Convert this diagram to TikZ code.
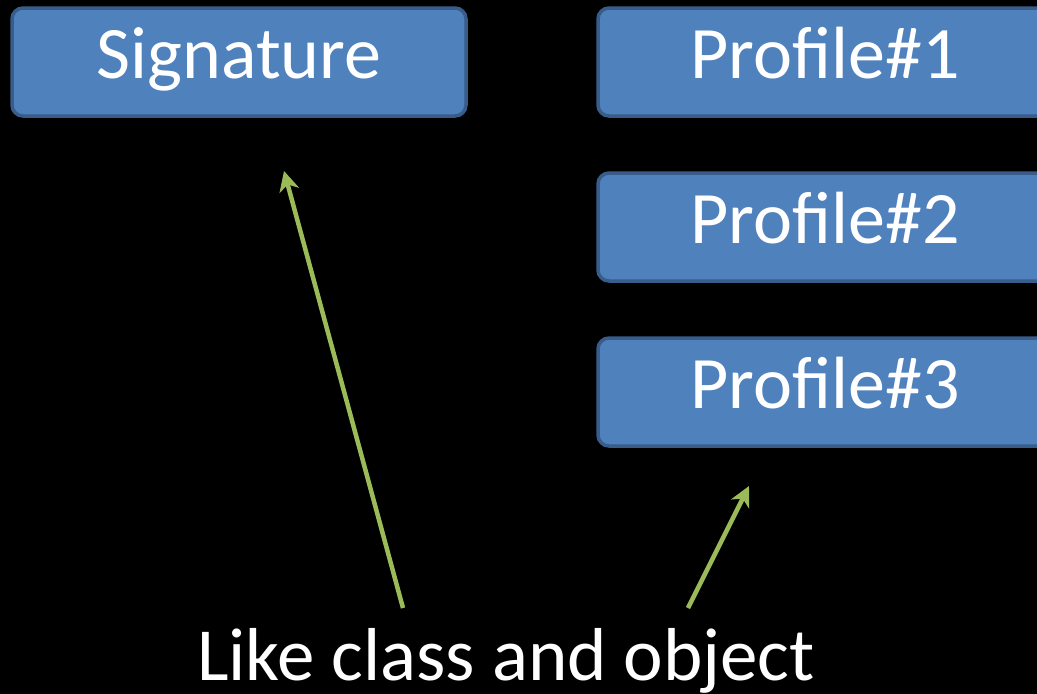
\documentclass[tikz,border=0pt]{standalone}
\usepackage{fontspec}
\setmainfont{Carlito}
\usetikzlibrary{arrows.meta}
\definecolor{boxfill}{HTML}{4F81BD}
\definecolor{boxline}{HTML}{385D8A}
\definecolor{arrowgreen}{HTML}{9BBB59}
\tikzset{
  card/.style={draw=boxline, fill=boxfill, line width=3.5pt, rounded corners=11pt,
    minimum width=454pt, minimum height=108pt, inner sep=0pt,
    text height=32pt, text depth=0pt,
    text=white, font=\fontsize{74}{88}\selectfont},
  pointer/.style={draw=arrowgreen, line width=4.5pt,
    -{Stealth[length=20pt,width=20pt,inset=6pt]}}
}
\begin{document}
\begin{tikzpicture}[x=1pt,y=-1pt]
  \fill[black] (0,0) rectangle (1037,694);
  \useasboundingbox (0,0) rectangle (1037,694);
  \begin{scope}
    \clip (0,0) rectangle (1037,694);
    \node[card] (sig) at (239,62) {Signature};
    \node[card] (p1) at (825,62) {Profile\#1};
    \node[card] (p2) at (825,227) {Profile\#2};
    \node[card] (p3) at (825,392) {Profile\#3};
    \node[text=white, font=\fontsize{75}{90}\selectfont, anchor=base] (cap) at (506,680) {Like class and object};
  \end{scope}
  \coordinate (a1s) at (403,608);
  \coordinate (a1e) at (284,171);
  \coordinate (a2s) at (688,608);
  \coordinate (a2e) at (749,486);
  \draw[pointer] (a1s) -- (a1e);
  \draw[pointer] (a2s) -- (a2e);
\end{tikzpicture}
\end{document}
